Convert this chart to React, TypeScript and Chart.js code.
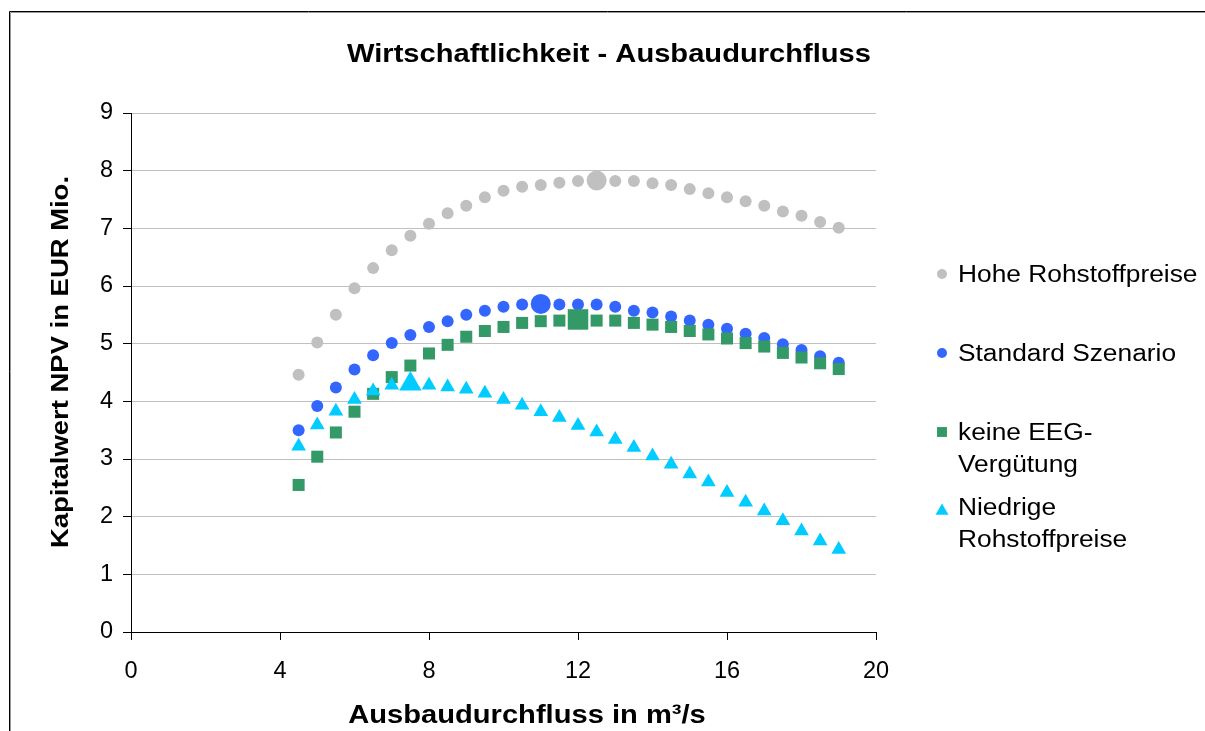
import React, { useEffect, useRef } from "react";
import { Chart, registerables } from "chart.js";

Chart.register(...registerables);

// ---------- data ----------
const FLOW = [
  4.5, 5, 5.5, 6, 6.5, 7, 7.5, 8, 8.5, 9, 9.5, 10, 10.5, 11, 11.5,
  12, 12.5, 13, 13.5, 14, 14.5, 15, 15.5, 16, 16.5, 17, 17.5, 18, 18.5, 19,
];

const HOHE_ROHSTOFFPREISE = [
  4.46, 5.02, 5.5, 5.96, 6.31, 6.62, 6.87, 7.08, 7.26, 7.39, 7.54, 7.65, 7.72, 7.75, 7.79,
  7.82, 7.83, 7.82, 7.82, 7.78, 7.75, 7.68, 7.61, 7.54, 7.47, 7.39, 7.29, 7.22, 7.11, 7.01,
];

const STANDARD_SZENARIO = [
  3.5, 3.92, 4.24, 4.55, 4.8, 5.01, 5.15, 5.29, 5.39, 5.5, 5.57, 5.64, 5.68, 5.69, 5.68,
  5.68, 5.68, 5.64, 5.57, 5.54, 5.47, 5.4, 5.33, 5.26, 5.17, 5.1, 4.99, 4.89, 4.78, 4.67,
];

const KEINE_EEG = [
  2.55, 3.04, 3.46, 3.82, 4.13, 4.42, 4.62, 4.83, 4.98, 5.12, 5.22, 5.29, 5.36, 5.39, 5.4,
  5.42, 5.4, 5.4, 5.36, 5.33, 5.29, 5.22, 5.16, 5.09, 5.01, 4.95, 4.84, 4.76, 4.66, 4.56,
];

const NIEDRIGE_ROHSTOFFPREISE = [
  3.22, 3.59, 3.83, 4.03, 4.18, 4.28, 4.3, 4.28, 4.25, 4.21, 4.14, 4.03, 3.93, 3.82, 3.72,
  3.58, 3.47, 3.34, 3.2, 3.05, 2.91, 2.74, 2.6, 2.42, 2.25, 2.1, 1.93, 1.75, 1.58, 1.43,
];

const SERIES_NAMES = [
  "Hohe Rohstoffpreise",
  "Standard Szenario",
  "keine EEG-Vergütung",
  "Niedrige Rohstoffpreise",
];
const LEGEND_LINES = [
  ["Hohe Rohstoffpreise"],
  ["Standard Szenario"],
  ["keine EEG-", "Vergütung"],
  ["Niedrige", "Rohstoffpreise"],
];
// flow at which each scenario reaches its optimum (drawn with a larger marker)
const OPTIMUM_FLOW = [12.5, 11, 12, 7.5];

const X_TICKS = [0, 4, 8, 12, 16, 20];
const Y_TICKS = [0, 1, 2, 3, 4, 5, 6, 7, 8, 9];

const TITLE = "Wirtschaftlichkeit - Ausbaudurchfluss";
const X_TITLE = "Ausbaudurchfluss in m³/s";
const Y_TITLE = "Kapitalwert NPV in EUR Mio.";

// ---------- styles ----------
const COLORS = ["#C0C0C0", "#3366FF", "#339966", "#00CCFF"];
const STYLES = ["circle", "circle", "rect", "triangle"] as const;
const RADIUS = [6, 6, 8.5, 8.5];
const RADIUS_BIG = [10, 10, 14.5, 13];
const LEGEND_RADIUS = [5, 5, 7, 7.5];
const FONT = "'Liberation Sans', Arial, Helvetica, sans-serif";
const STRETCH = 1.12;

const VALUES = [HOHE_ROHSTOFFPREISE, STANDARD_SZENARIO, KEINE_EEG, NIEDRIGE_ROHSTOFFPREISE];

function drawText(
  ctx: CanvasRenderingContext2D,
  text: string,
  x: number,
  y: number,
  font: string,
  align: CanvasTextAlign,
  rotate = 0
) {
  ctx.save();
  ctx.translate(x, y);
  if (rotate) ctx.rotate(rotate);
  ctx.scale(STRETCH, 1);
  ctx.font = font;
  ctx.textAlign = align;
  ctx.textBaseline = "alphabetic";
  ctx.fillStyle = "#000000";
  ctx.fillText(text, 0, 0);
  ctx.restore();
}

function drawMarker(ctx: CanvasRenderingContext2D, style: string, x: number, y: number, r: number, color: string) {
  ctx.save();
  ctx.fillStyle = color;
  ctx.beginPath();
  if (style === "circle") {
    ctx.arc(x, y, r, 0, Math.PI * 2);
  } else if (style === "rect") {
    const s = r * Math.SQRT1_2;
    ctx.rect(x - s, y - s, 2 * s, 2 * s);
  } else {
    ctx.moveTo(x, y - r);
    ctx.lineTo(x + r * Math.sin((2 * Math.PI) / 3), y + r / 2);
    ctx.lineTo(x - r * Math.sin((2 * Math.PI) / 3), y + r / 2);
    ctx.closePath();
  }
  ctx.fill();
  ctx.restore();
}

const decorPlugin = {
  id: "decor",
  beforeDraw(chart: any) {
    const ctx: CanvasRenderingContext2D = chart.ctx;
    ctx.save();
    ctx.fillStyle = "#ffffff";
    ctx.fillRect(0, 0, chart.width, chart.height);
    // outer chart frame (cut off at right and bottom)
    ctx.strokeStyle = "#000000";
    ctx.lineWidth = 1;
    ctx.beginPath();
    ctx.moveTo(9.5, chart.height);
    ctx.lineTo(9.5, 11.5);
    ctx.lineTo(chart.width, 11.5);
    ctx.stroke();
    ctx.strokeStyle = "#9a9a9a";
    ctx.beginPath();
    ctx.moveTo(10.5, chart.height);
    ctx.lineTo(10.5, 12.5);
    ctx.lineTo(chart.width, 12.5);
    ctx.stroke();
    ctx.restore();
  },
  afterDraw(chart: any) {
    const ctx: CanvasRenderingContext2D = chart.ctx;
    // title
    drawText(ctx, TITLE, 609, 62, `bold 26px ${FONT}`, "center");
    // axis titles
    drawText(ctx, X_TITLE, 527, 723, `bold 26px ${FONT}`, "center");
    drawText(ctx, Y_TITLE, 68, 362, `bold 24.5px ${FONT}`, "center", -Math.PI / 2);
    // legend
    const rows = [273, 352, 431, 506];
    const markerY = [274, 353, 432, 511];
    const lineGap = 32;
    LEGEND_LINES.forEach((lines, i) => {
      drawMarker(ctx, STYLES[i], 942, markerY[i], LEGEND_RADIUS[i], COLORS[i]);
      lines.forEach((line, j) => {
        drawText(ctx, line, 958, rows[i] + j * lineGap + 8.5, `23.5px ${FONT}`, "left");
      });
    });
  },
};

export default function App() {
  const canvasRef = useRef<HTMLCanvasElement | null>(null);

  useEffect(() => {
    if (!canvasRef.current) return;
    const datasets = VALUES.map((vals, i) => ({
      label: SERIES_NAMES[i],
      data: FLOW.map((x, k) => ({ x, y: vals[k] })),
      showLine: false,
      pointStyle: STYLES[i],
      backgroundColor: COLORS[i],
      borderColor: COLORS[i],
      pointBackgroundColor: COLORS[i],
      pointBorderColor: COLORS[i],
      pointBorderWidth: 0,
      pointRadius: (c: any) => (c.raw && c.raw.x === OPTIMUM_FLOW[i] ? RADIUS_BIG[i] : RADIUS[i]),
      pointHoverRadius: (c: any) => (c.raw && c.raw.x === OPTIMUM_FLOW[i] ? RADIUS_BIG[i] : RADIUS[i]),
      order: 4 - i,
    }));

    const chart = new Chart(canvasRef.current, {
      type: "scatter",
      data: { datasets },
      options: {
        animation: false,
        responsive: false,
        events: [],
        layout: { padding: { left: 31, right: 329, top: 113, bottom: 39 } },
        plugins: {
          legend: { display: false },
          title: { display: false },
          tooltip: { enabled: false },
        },
        scales: {
          x: {
            type: "linear",
            min: X_TICKS[0],
            max: X_TICKS[X_TICKS.length - 1],
            afterBuildTicks: (s: any) => {
              s.ticks = X_TICKS.map((v) => ({ value: v }));
            },
            afterFit: (s: any) => {
              s.height = 60;
            },
            grid: {
              drawOnChartArea: false,
              drawTicks: true,
              tickLength: 8,
              tickColor: "#000000",
            },
            border: { display: true, color: "#000000", width: 1 },
            ticks: {
              color: "#000000",
              font: { family: FONT, size: 23.5 },
              padding: 17,
              maxRotation: 0,
            },
          },
          y: {
            type: "linear",
            min: Y_TICKS[0],
            max: Y_TICKS[Y_TICKS.length - 1],
            afterBuildTicks: (s: any) => {
              s.ticks = Y_TICKS.map((v) => ({ value: v }));
            },
            afterFit: (s: any) => {
              s.width = 100;
            },
            grid: {
              color: "#C0C0C0",
              lineWidth: 1,
              drawTicks: true,
              tickLength: 8,
              tickColor: "#000000",
            },
            border: { display: true, color: "#000000", width: 1 },
            ticks: {
              color: "#000000",
              font: { family: FONT, size: 23.5 },
              padding: 10,
            },
          },
        },
      },
      plugins: [decorPlugin],
    } as any);

    return () => chart.destroy();
  }, []);

  return (
    <div style={{ position: "fixed", left: 0, top: 0, width: 1205, height: 731, background: "#fff" }}>
      <canvas ref={canvasRef} width={1205} height={731} style={{ display: "block" }} />
    </div>
  );
}
